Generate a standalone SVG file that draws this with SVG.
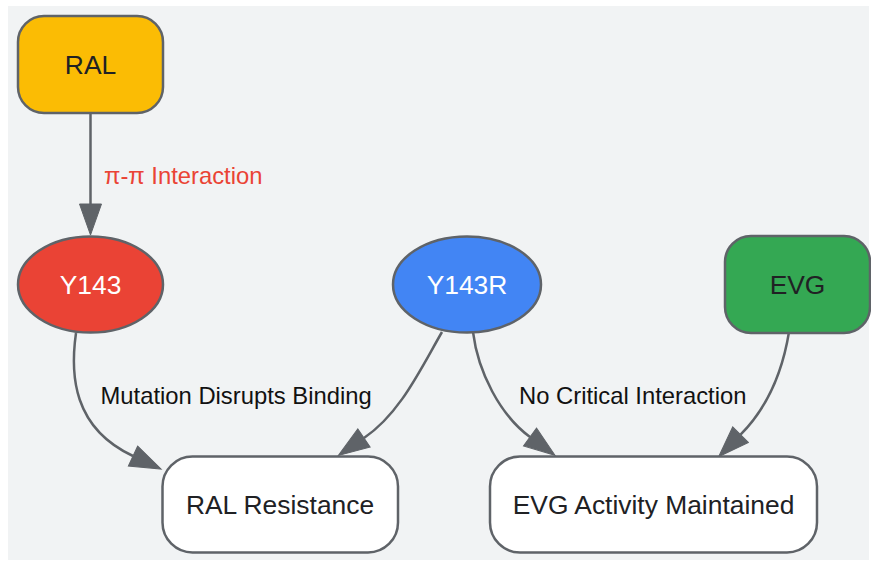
<svg xmlns="http://www.w3.org/2000/svg" width="871" height="561" viewBox="0 0 871 561">
<defs>
<style>
.node{stroke:#5f6368;stroke-width:2.5}
.lbl{font-family:"Liberation Sans",Arial,sans-serif;font-size:26.4px;text-anchor:middle;fill:#202124}
.wl{fill:#ffffff}
.edge{fill:none;stroke:#5f6368;stroke-width:2.5}
.elbl{font-family:"Liberation Sans",Arial,sans-serif;font-size:23.8px;fill:#111111}
</style>
<marker id="arr" markerUnits="userSpaceOnUse" markerWidth="32" markerHeight="24" refX="0" refY="11" orient="auto" overflow="visible">
<path d="M0,0 L31,11 L0,22 Z" fill="#5f6368" stroke="#5f6368" stroke-width="1"/>
</marker>
</defs>
<rect x="0" y="0" width="871" height="561" fill="#ffffff"/>
<rect x="8" y="6" width="861" height="554" fill="#f1f3f4"/>
<g id="connectors">
<path class="edge" d="M90.5,113 L90.5,204" marker-end="url(#arr)"/>
<path class="edge" d="M76,333 C70,375 73,428 133,456" marker-end="url(#arr)"/>
<path class="edge" d="M442,332 C420,370 400,413.5 364,438" marker-end="url(#arr)"/>
<path class="edge" d="M473,332 C478,372 500,415 530,437" marker-end="url(#arr)"/>
<path class="edge" d="M789,332 C782,375 765,410 740.5,434.7" marker-end="url(#arr)"/>
<text class="elbl" x="104" y="184" style="fill:#ea4335">π-π Interaction</text>
<text class="elbl" x="100.5" y="404">Mutation Disrupts Binding</text>
<text class="elbl" x="519" y="404">No Critical Interaction</text>
</g>
<g id="RAL">
<rect class="node" x="18" y="16" width="145" height="97" rx="26" fill="#fbbc04"/>
<text class="lbl" x="90.5" y="74">RAL</text>
</g>
<g id="Y143">
<ellipse class="node" cx="90.5" cy="284.5" rx="72.5" ry="48" fill="#ea4335"/>
<text class="lbl wl" x="90.5" y="293.5">Y143</text>
</g>
<g id="Y143R">
<ellipse class="node" cx="467" cy="284.5" rx="74" ry="48" fill="#4285f4"/>
<text class="lbl wl" x="467" y="293.5">Y143R</text>
</g>
<g id="EVG">
<rect class="node" x="725" y="236" width="145" height="97" rx="26" fill="#34a853"/>
<text class="lbl" x="797.5" y="293.5">EVG</text>
</g>
<g id="RALResistance">
<rect class="node" x="162.5" y="456.5" width="235.5" height="96" rx="30" fill="#ffffff"/>
<text class="lbl" x="280" y="514">RAL Resistance</text>
</g>
<g id="EVGActivity">
<rect class="node" x="490" y="456.5" width="327" height="96" rx="30" fill="#ffffff"/>
<text class="lbl" x="653.5" y="514">EVG Activity Maintained</text>
</g>
</svg>
